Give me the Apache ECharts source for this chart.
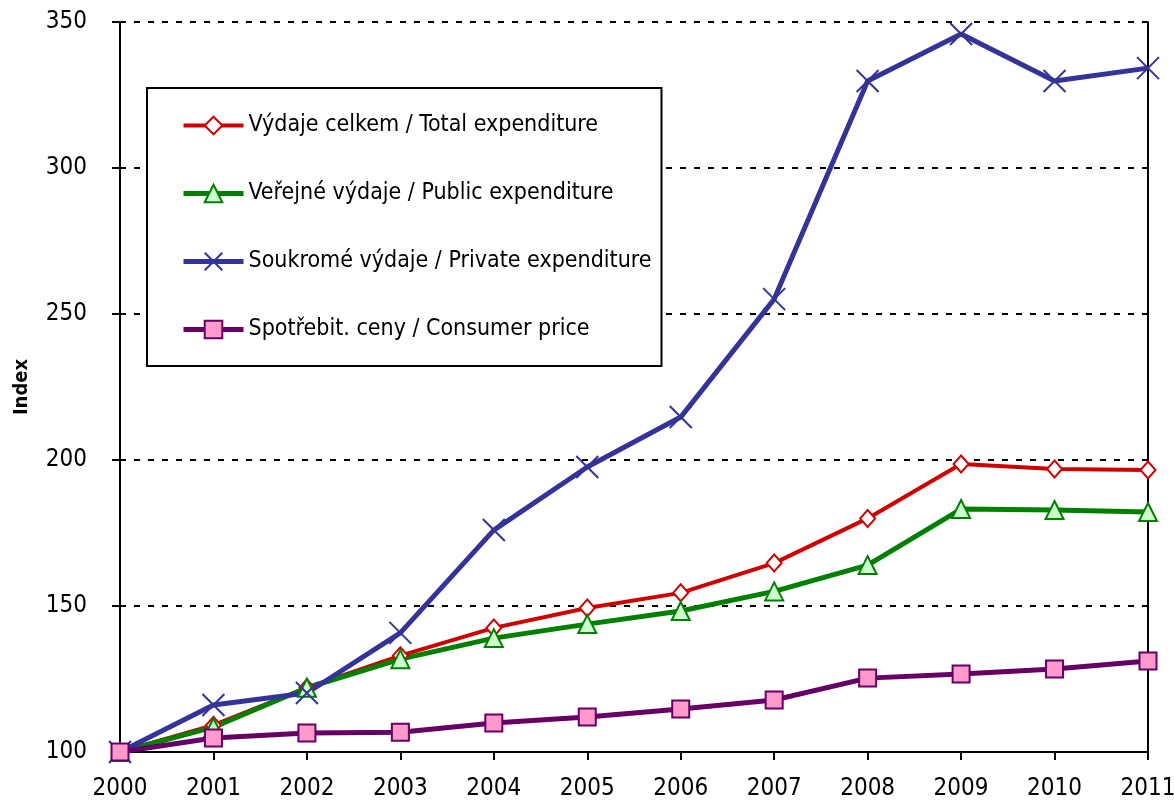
<!DOCTYPE html>
<html>
<head>
<meta charset="utf-8">
<script src="https://cdn.jsdelivr.net/npm/echarts@6/dist/echarts.min.js"></script>
<style>
  html, body { margin: 0; padding: 0; background: #fff; }
  #chart { width: 1174px; height: 807px; }
</style>
</head>
<body>
<div id="chart"></div>
<script>
// categories and values
var years = ['2000', '2001', '2002', '2003', '2004', '2005', '2006', '2007', '2008', '2009', '2010', '2011'];
var totalExp = [100, 109.2, 122, 133, 142.5, 149.3, 154.5, 164.7, 180, 198.6, 196.9, 196.6];
var publicExp = [100, 108.5, 122, 131.8, 139, 143.8, 148.3, 155, 164, 183.2, 182.9, 182.2];
var privateExp = [100, 116.1, 120.2, 140.8, 176, 197.6, 214.7, 255.1, 329.8, 345.9, 329.8, 334.2];
var consumerPrice = [100, 104.8, 106.5, 106.8, 109.9, 112, 114.7, 117.8, 125.3, 126.7, 128.4, 131.2];
var seriesNames = [
	'Výdaje celkem / Total expenditure',
	'Veřejné výdaje / Public expenditure',
	'Soukromé výdaje / Private expenditure',
	'Spotřebit. ceny / Consumer price'
];

var font = "'Liberation Sans Narrow', 'DejaVu Sans Condensed', 'Liberation Sans', Arial, sans-serif";
var chart = echarts.init(document.getElementById('chart'));

chart.setOption({
	animation: false,
	textStyle: { fontFamily: font },
	grid: { left: 120, right: 26, top: 22, bottom: 55, outerBoundsMode: 'none' },
	legend: {
		orient: 'vertical',
		left: 147,
		top: 88,
		padding: [26, 10, 25, 34],
		itemWidth: 60,
		itemHeight: 22,
		itemGap: 45,
		backgroundColor: '#fff',
		borderColor: '#000',
		borderWidth: 2,
		lineStyle: { width: 'inherit' },
		textStyle: { fontFamily: font, fontSize: 23, color: '#000', lineHeight: 22 },
		data: seriesNames
	},
	xAxis: {
		type: 'category',
		data: years,
		boundaryGap: false,
		axisLine: { lineStyle: { color: '#000', width: 2 } },
		axisTick: { length: 8, lineStyle: { color: '#000', width: 2 } },
		axisLabel: { color: '#000', fontSize: 24, margin: 25, fontFamily: font }
	},
	yAxis: [
		{
			type: 'value',
			min: 100,
			max: 350,
			interval: 50,
			name: 'Index',
			nameLocation: 'middle',
			nameGap: 88,
			nameTextStyle: { color: '#000', fontSize: 20, fontWeight: 'bold', fontFamily: font },
			axisLine: { show: true, lineStyle: { color: '#000', width: 2 } },
			axisTick: { show: true, length: 8, lineStyle: { color: '#000', width: 2 } },
			axisLabel: { color: '#000', fontSize: 24, margin: 33, fontFamily: font },
			splitLine: { show: true, lineStyle: { color: '#000', width: 2, type: [6, 8] } }
		},
		{
			type: 'value',
			min: 100,
			max: 350,
			interval: 50,
			position: 'right',
			axisLine: { show: true, lineStyle: { color: '#000', width: 2 } },
			axisTick: { show: false },
			axisLabel: { show: false },
			splitLine: { show: false }
		}
	],
	series: [
		{
			name: seriesNames[0],
			type: 'line',
			data: totalExp,
			symbol: 'diamond',
			symbolSize: [15, 17],
			lineStyle: { color: '#d00000', width: 4 },
			itemStyle: { color: '#fff', borderColor: '#d00000', borderWidth: 2 }
		},
		{
			name: seriesNames[1],
			type: 'line',
			data: publicExp,
			symbol: 'triangle',
			symbolSize: 18,
			lineStyle: { color: '#008000', width: 5 },
			itemStyle: { color: '#ccffcc', borderColor: '#008000', borderWidth: 2 }
		},
		{
			name: seriesNames[2],
			type: 'line',
			data: privateExp,
			symbol: 'path://M0,0L10,10M10,0L0,10',
			symbolSize: 22,
			lineStyle: { color: '#333399', width: 5 },
			itemStyle: { color: '#333399', borderColor: '#333399', borderWidth: 2 }
		},
		{
			name: seriesNames[3],
			type: 'line',
			data: consumerPrice,
			symbol: 'rect',
			symbolSize: 17,
			lineStyle: { color: '#660066', width: 5 },
			itemStyle: { color: '#ff99cc', borderColor: '#660066', borderWidth: 2 }
		}
	]
});
</script>
</body>
</html>
